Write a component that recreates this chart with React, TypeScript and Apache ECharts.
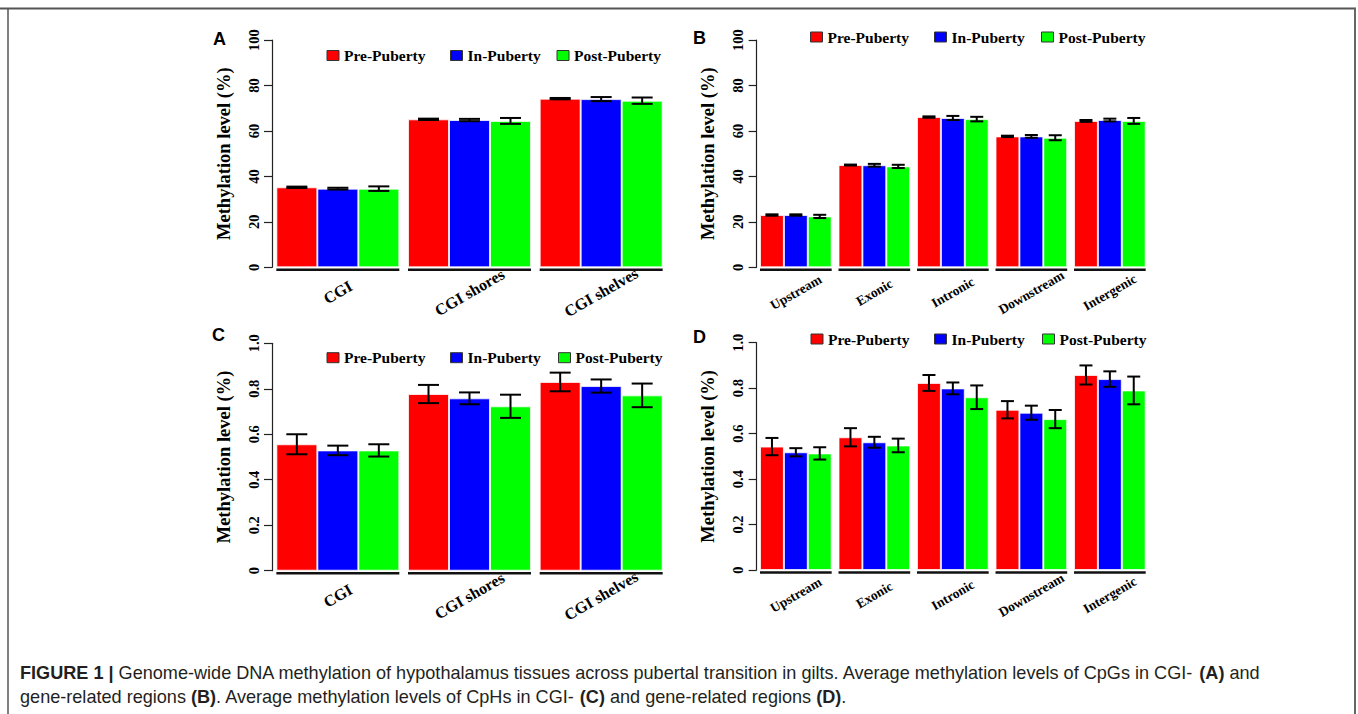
import React, { useEffect, useRef } from 'react';
import * as echarts from 'echarts';

// ---------- data ----------
const groupNames = ['Pre-Puberty', 'In-Puberty', 'Post-Puberty'];
const groupColors = ['#ff0000', '#0000ff', '#00ff00'];

const cgiCategories = ['CGI', 'CGI shores', 'CGI shelves'];
const geneCategories = ['Upstream', 'Exonic', 'Intronic', 'Downstream', 'Intergenic'];

const pctTicks = [0, 20, 40, 60, 80, 100];
const fracTicks = [0, 0.2, 0.4, 0.6, 0.8, 1.0];

// Panel A: CpG, CGI regions (%)
const cpgCgiPre = [35.2, 65.1, 74.2];
const cpgCgiPreErr = [0.3, 0.3, 0.3];
const cpgCgiIn = [34.6, 64.8, 74.0];
const cpgCgiInErr = [0.4, 0.5, 0.9];
const cpgCgiPost = [34.6, 64.4, 73.3];
const cpgCgiPostErr = [1.0, 1.3, 1.4];

// Panel B: CpG, gene-related regions (%)
const cpgGenePre = [23.0, 45.0, 66.1, 57.6, 64.4];
const cpgGenePreErr = [0.3, 0.2, 0.3, 0.3, 0.4];
const cpgGeneIn = [23.0, 44.9, 65.7, 57.6, 64.8];
const cpgGeneInErr = [0.3, 0.6, 0.9, 0.6, 0.6];
const cpgGenePost = [22.4, 44.4, 65.2, 57.0, 64.4];
const cpgGenePostErr = [0.7, 0.7, 1.0, 1.1, 1.3];

// Panel C: CpH, CGI regions
const cphCgiPre = [0.556, 0.777, 0.83];
const cphCgiPreErr = [0.044, 0.04, 0.041];
const cphCgiIn = [0.529, 0.758, 0.812];
const cphCgiInErr = [0.021, 0.026, 0.029];
const cphCgiPost = [0.529, 0.723, 0.771];
const cphCgiPostErr = [0.027, 0.051, 0.052];

// Panel D: CpH, gene-related regions
const cphGenePre = [0.543, 0.584, 0.823, 0.705, 0.858];
const cphGenePreErr = [0.038, 0.04, 0.035, 0.038, 0.042];
const cphGeneIn = [0.518, 0.562, 0.799, 0.692, 0.84];
const cphGeneInErr = [0.018, 0.024, 0.026, 0.031, 0.034];
const cphGenePost = [0.513, 0.548, 0.76, 0.664, 0.79];
const cphGenePostErr = [0.027, 0.03, 0.052, 0.04, 0.061];

const yAxisName = 'Methylation level (%)';
const captionLine1 =
  '{b|FIGURE 1 |} Genome-wide DNA methylation of hypothalamus tissues across pubertal transition in gilts. Average methylation levels of CpGs in CGI- {b|(A)} and';
const captionLine2 =
  'gene-related regions {b|(B)}. Average methylation levels of CpHs in CGI- {b|(C)} and gene-related regions {b|(D)}.';

// ---------- layout ----------
const SERIF = '"Liberation Serif", "Times New Roman", serif';
const SANS = '"Liberation Sans", Arial, Helvetica, sans-serif';

const panels = [
  {
    letter: 'A', letterX: 213, letterY: 38.5,
    cats: cgiCategories, vals: [cpgCgiPre, cpgCgiIn, cpgCgiPost], errs: [cpgCgiPreErr, cpgCgiInErr, cpgCgiPostErr],
    ticks: pctTicks, grid: { left: 272, top: 40, width: 395, height: 227.3 }, gap: 0.066, cap: 21,
    labelSize: 16, legendX: [326.5, 450, 556.5], legendY: 55.5,
  },
  {
    letter: 'B', letterX: 693, letterY: 37.5,
    cats: geneCategories, vals: [cpgGenePre, cpgGeneIn, cpgGenePost], errs: [cpgGenePreErr, cpgGeneInErr, cpgGenePostErr],
    ticks: pctTicks, grid: { left: 756.6, top: 40, width: 392.5, height: 227.3 }, gap: 0.087, cap: 13,
    labelSize: 13.5, legendX: [810, 934, 1041], legendY: 37,
  },
  {
    letter: 'C', letterX: 212, letterY: 335,
    cats: cgiCategories, vals: [cphCgiPre, cphCgiIn, cphCgiPost], errs: [cphCgiPreErr, cphCgiInErr, cphCgiPostErr],
    ticks: fracTicks, grid: { left: 272, top: 343.3, width: 395, height: 227.4 }, gap: 0.066, cap: 21,
    labelSize: 16, legendX: [326.5, 450, 558], legendY: 357.7,
  },
  {
    letter: 'D', letterX: 693, letterY: 336.5,
    cats: geneCategories, vals: [cphGenePre, cphGeneIn, cphGenePost], errs: [cphGenePreErr, cphGeneInErr, cphGenePostErr],
    ticks: fracTicks, grid: { left: 756.6, top: 342.7, width: 392.5, height: 227.3 }, gap: 0.087, cap: 13,
    labelSize: 13.5, legendX: [810.5, 934, 1042], legendY: 339,
  },
];

function buildOption() {
  const grid: any[] = [];
  const xAxis: any[] = [];
  const yAxis: any[] = [];
  const series: any[] = [];
  const legend: any[] = [];
  const graphic: any[] = [];

  panels.forEach((p, pi) => {
    grid.push({ ...p.grid, containLabel: false });
    xAxis.push({
      type: 'category',
      gridIndex: pi,
      data: p.cats,
      axisLine: { show: false },
      axisTick: { show: false },
      axisLabel: {
        interval: 0,
        rotate: 30,
        align: 'center',
        verticalAlign: 'middle',
        margin: 25,
        fontFamily: SERIF,
        fontWeight: 'bold',
        fontSize: p.labelSize,
        color: '#000',
      },
    });
    const isPct = p.ticks[p.ticks.length - 1] > 1;
    yAxis.push({
      type: 'value',
      gridIndex: pi,
      min: p.ticks[0],
      max: p.ticks[p.ticks.length - 1],
      interval: p.ticks[1] - p.ticks[0],
      splitLine: { show: false },
      axisLine: { show: true, lineStyle: { color: '#222', width: 1.2 } },
      axisTick: { show: true, length: 8, lineStyle: { color: '#222', width: 1.2 } },
      axisLabel: {
        rotate: 90,
        margin: 11,
        fontFamily: SERIF,
        fontWeight: 'bold',
        fontSize: 14.5,
        color: '#000',
        formatter: (v: number) => (isPct ? String(Math.round(v)) : v === 0 ? '0' : v.toFixed(1)),
      },
      name: yAxisName,
      nameLocation: 'middle',
      nameGap: 39,
      nameTextStyle: { fontFamily: SERIF, fontWeight: 'bold', fontSize: 18.5, color: '#000' },
    });

    groupNames.forEach((g, gi) => {
      series.push({
        type: 'bar',
        name: g,
        xAxisIndex: pi,
        yAxisIndex: pi,
        data: p.vals[gi],
        barGap: '0%',
        barCategoryGap: (p.gap * 100).toFixed(1) + '%',
        itemStyle: { color: groupColors[gi], borderColor: 'rgba(255,255,255,0.75)', borderWidth: 1 },
        z: 2,
      });
    });

    // error bars
    const errData: number[][] = [];
    p.cats.forEach((_, ci) => {
      groupNames.forEach((_g, gi) => {
        errData.push([ci, p.vals[gi][ci], p.errs[gi][ci], gi]);
      });
    });
    const gap = p.gap;
    const cap = p.cap;
    series.push({
      type: 'custom',
      name: 'err' + p.letter,
      xAxisIndex: pi,
      yAxisIndex: pi,
      clip: false,
      z: 5,
      encode: { x: 0, y: 1 },
      data: errData,
      renderItem: (params: any, api: any) => {
        const ci = api.value(0);
        const v = api.value(1);
        const e = api.value(2);
        const gi = api.value(3);
        const band = api.size([1, 0])[0];
        const gw = band * (1 - gap);
        const bw = gw / 3;
        const c = api.coord([ci, v]);
        const x = c[0] - gw / 2 + bw * (gi + 0.5);
        const top = api.coord([ci, v + e])[1];
        const bot = api.coord([ci, v - e])[1];
        const st = { stroke: '#000', lineWidth: 2 };
        return {
          type: 'group',
          children: [
            { type: 'line', shape: { x1: x, y1: top, x2: x, y2: bot }, style: st },
            { type: 'line', shape: { x1: x - cap / 2, y1: top, x2: x + cap / 2, y2: top }, style: st },
            { type: 'line', shape: { x1: x - cap / 2, y1: bot, x2: x + cap / 2, y2: bot }, style: st },
          ],
        };
      },
    });

    // group underlines (R-style axis segments)
    series.push({
      type: 'custom',
      name: 'axis' + p.letter,
      xAxisIndex: pi,
      yAxisIndex: pi,
      clip: false,
      z: 5,
      encode: { x: 0, y: 1 },
      data: p.cats.map((_, ci) => [ci, 0]),
      renderItem: (params: any, api: any) => {
        const ci = api.value(0);
        const band = api.size([1, 0])[0];
        const gw = band * (1 - gap);
        const c = api.coord([ci, 0]);
        return {
          type: 'line',
          shape: { x1: c[0] - gw / 2, y1: c[1] + 2.5, x2: c[0] + gw / 2, y2: c[1] + 2.5 },
          style: { stroke: '#111', lineWidth: 2.6 },
        };
      },
    });

    groupNames.forEach((g, gi) => {
      legend.push({
        data: [g],
        left: p.legendX[gi],
        top: p.legendY - 8,
        padding: 0,
        icon: 'rect',
        itemWidth: 12,
        itemHeight: 10,
        selectedMode: false,
        itemStyle: { borderColor: '#333', borderWidth: 1 },
        textStyle: { fontFamily: SERIF, fontWeight: 'bold', fontSize: 15.5, color: '#000', lineHeight: 16 },
      });
    });

    graphic.push({
      type: 'text',
      x: p.letterX,
      y: p.letterY,
      style: {
        text: p.letter,
        fontFamily: SANS,
        fontWeight: 'bold',
        fontSize: 18,
        fill: '#000',
        verticalAlign: 'middle',
      },
    });
  });

  // frame
  const frameStyle = { stroke: '#555', lineWidth: 2 };
  graphic.push({ type: 'line', shape: { x1: 0, y1: 8.5, x2: 1356, y2: 8.5 }, style: frameStyle });
  graphic.push({ type: 'line', shape: { x1: 8, y1: 8, x2: 8, y2: 714 }, style: { stroke: '#555', lineWidth: 1.5 } });
  graphic.push({ type: 'line', shape: { x1: 1355, y1: 8, x2: 1355, y2: 714 }, style: { stroke: '#666', lineWidth: 2 } });

  // caption
  const capSize = 18.1;
  const capRich = {
    b: { fontFamily: SANS, fontWeight: 'bold', fontSize: capSize, fill: '#231f20' },
  };
  graphic.push({
    type: 'text',
    x: 20,
    y: 673,
    style: {
      text: captionLine1,
      rich: capRich,
      fontFamily: SANS,
      fontSize: capSize,
      fill: '#231f20',
      verticalAlign: 'middle',
    },
  });
  graphic.push({
    type: 'text',
    x: 20,
    y: 697,
    style: {
      text: captionLine2,
      rich: capRich,
      fontFamily: SANS,
      fontSize: capSize,
      fill: '#231f20',
      verticalAlign: 'middle',
    },
  });

  return {
    animation: false,
    backgroundColor: '#ffffff',
    grid,
    xAxis,
    yAxis,
    series,
    legend,
    graphic,
    tooltip: { show: false },
  };
}

export default function App() {
  const ref = useRef<HTMLDivElement>(null);
  useEffect(() => {
    if (!ref.current) return;
    const chart = echarts.init(ref.current, undefined, { renderer: 'svg' });
    chart.setOption(buildOption() as any);
    return () => chart.dispose();
  }, []);
  return (
    <div
      ref={ref}
      style={{ position: 'absolute', left: 0, top: 0, width: 1358, height: 714, background: '#fff' }}
    />
  );
}
